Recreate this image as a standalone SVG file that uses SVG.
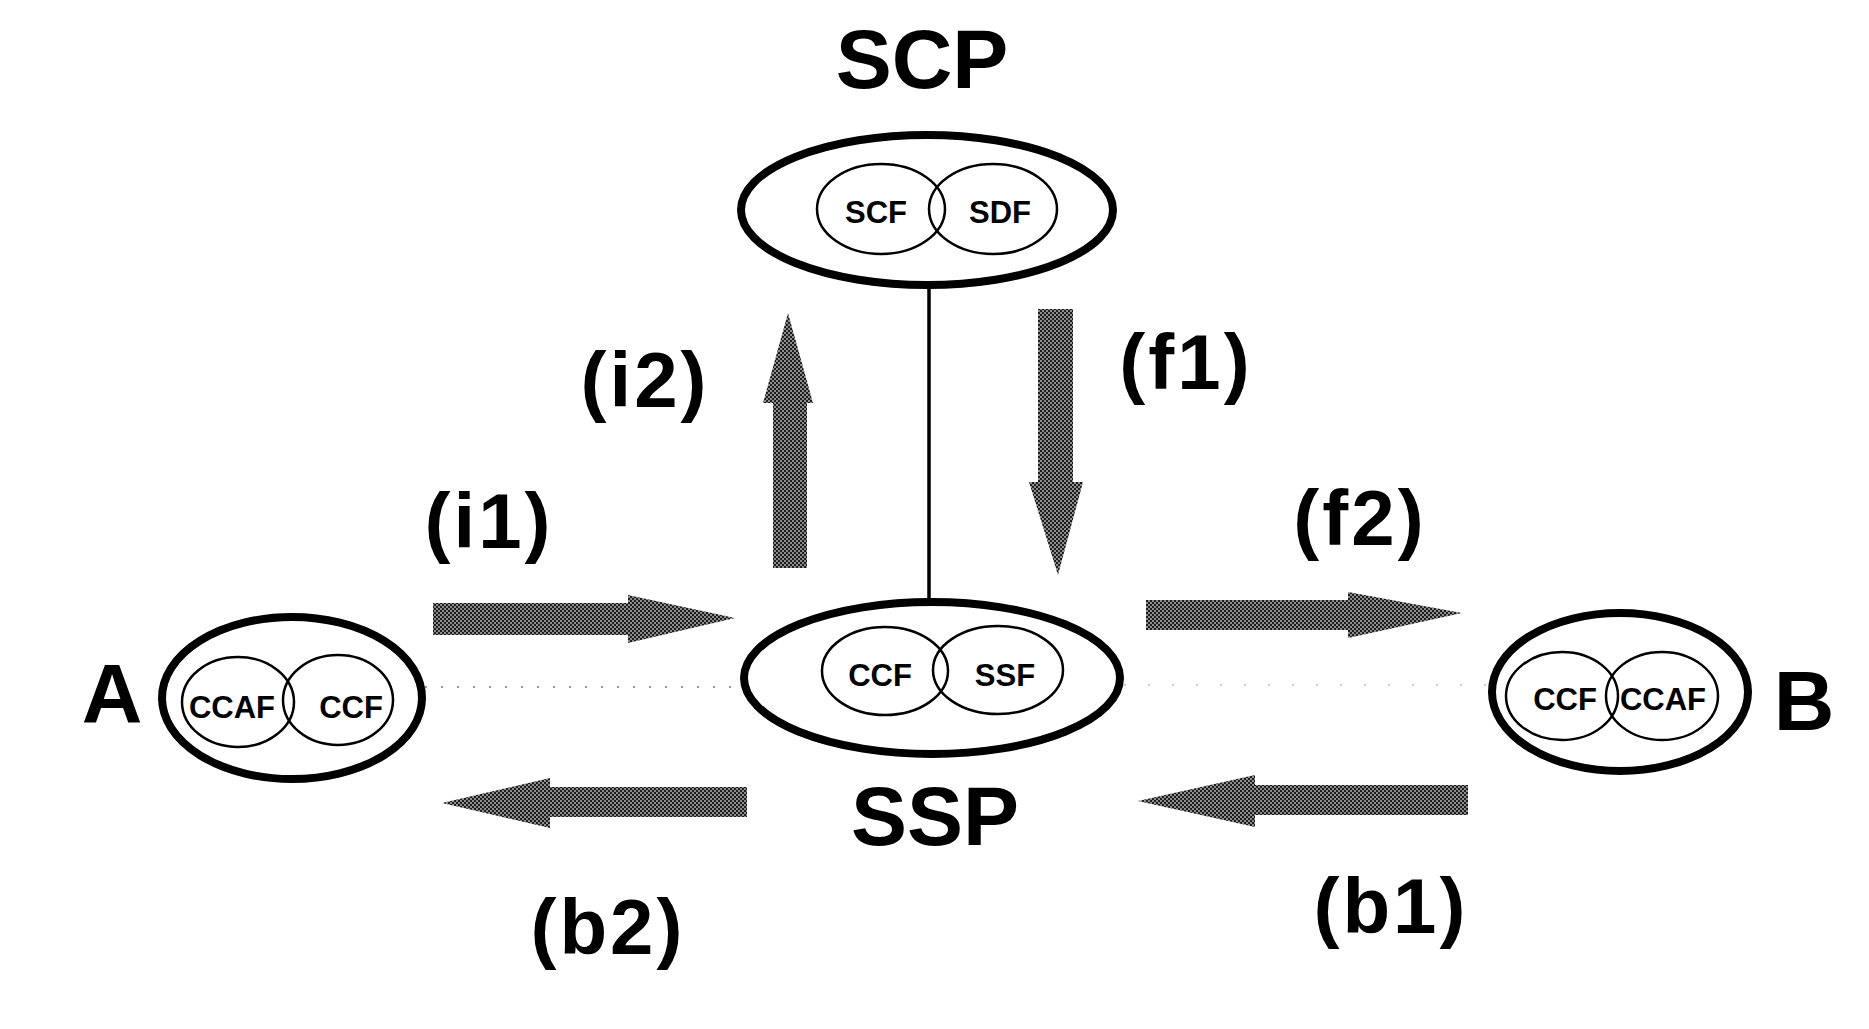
<svg xmlns="http://www.w3.org/2000/svg" width="1869" height="1029" viewBox="0 0 1869 1029">
<style>
.outer{fill:none;stroke:#000;stroke-width:8}
.inner{fill:none;stroke:#000;stroke-width:2.5}
.big{font-family:"Liberation Sans",Arial,sans-serif;font-weight:bold;font-size:84px;fill:#000;text-anchor:middle}
.lbl{font-family:"Liberation Sans",Arial,sans-serif;font-weight:bold;font-size:78px;fill:#000;text-anchor:middle;letter-spacing:3px}
.sm{font-family:"Liberation Sans",Arial,sans-serif;font-weight:bold;font-size:31px;fill:#000;text-anchor:middle}
.arr{fill:url(#hatch)}
</style>
<defs>
<pattern id="hatch" width="4" height="4" patternUnits="userSpaceOnUse">
<rect width="4" height="4" fill="#1e1e1e"/>
<rect x="0.3" y="0.3" width="1.4" height="1.4" fill="#fff"/>
<rect x="2.3" y="2.3" width="1.4" height="1.4" fill="#fff"/>
</pattern>
</defs>
<rect width="1869" height="1029" fill="#fff"/>
<g id="connectors">
<line x1="929" y1="287" x2="929" y2="601" stroke="#000" stroke-width="3.5"/>
<line x1="425" y1="687" x2="742" y2="687" stroke="#777" stroke-width="1.5" stroke-dasharray="2 14"/>
<line x1="1124" y1="685" x2="1488" y2="685" stroke="#999" stroke-width="1.2" stroke-dasharray="2 22"/>
<polygon id="arrow-i1" class="arr" points="433,603 628,603 628,595 735,618 628,643 628,635 433,635"/>
<polygon id="arrow-i2" class="arr" points="773,568 773,403 763,403 788,313 813,403 807,403 807,568"/>
<polygon id="arrow-f1" class="arr" points="1038,309 1073,309 1073,482 1083,482 1058,575 1029,482 1038,482"/>
<polygon id="arrow-f2" class="arr" points="1146,600 1348,600 1348,592 1462,613 1348,638 1348,630 1146,630"/>
<polygon id="arrow-b2" class="arr" points="747,787 550,787 550,778 442,803 550,828 550,817 747,817"/>
<polygon id="arrow-b1" class="arr" points="1468,785 1255,785 1255,775 1138,801 1255,827 1255,815 1468,815"/>
</g>
<g id="labels">
<text class="lbl" x="489" y="548">(i1)</text>
<text class="lbl" x="645" y="407">(i2)</text>
<text class="lbl" x="1186" y="389">(f1)</text>
<text class="lbl" x="1360" y="545">(f2)</text>
<text class="lbl" x="608" y="954">(b2)</text>
<text class="lbl" x="1391" y="933">(b1)</text>
</g>
<g id="SCP">
<text class="big" x="922" y="88">SCP</text>
<ellipse class="outer" cx="927" cy="210" rx="186" ry="75"/>
<ellipse class="inner" cx="881" cy="209" rx="64" ry="45"/>
<ellipse class="inner" cx="993" cy="209" rx="64" ry="45"/>
<text class="sm" x="876" y="223">SCF</text>
<text class="sm" x="1000" y="223">SDF</text>
</g>
<g id="SSP">
<ellipse class="outer" cx="932" cy="678" rx="188" ry="76"/>
<ellipse class="inner" cx="885" cy="671" rx="63" ry="44"/>
<ellipse class="inner" cx="998" cy="670" rx="65" ry="44"/>
<text class="sm" x="880" y="686">CCF</text>
<text class="sm" x="1005" y="686">SSF</text>
<text class="big" x="935" y="845">SSP</text>
</g>
<g id="A">
<text class="big" x="112" y="723">A</text>
<ellipse class="outer" cx="292" cy="698" rx="130" ry="81"/>
<ellipse class="inner" cx="238" cy="702" rx="56" ry="45"/>
<ellipse class="inner" cx="338" cy="700" rx="55" ry="45"/>
<text class="sm" x="232" y="718">CCAF</text>
<text class="sm" x="351" y="718">CCF</text>
</g>
<g id="B">
<ellipse class="outer" cx="1620" cy="692" rx="128" ry="79"/>
<ellipse class="inner" cx="1562" cy="696" rx="56" ry="44"/>
<ellipse class="inner" cx="1662" cy="696" rx="56" ry="44"/>
<text class="sm" x="1565" y="710">CCF</text>
<text class="sm" x="1663" y="710">CCAF</text>
<text class="big" x="1804" y="730">B</text>
</g>
</svg>
